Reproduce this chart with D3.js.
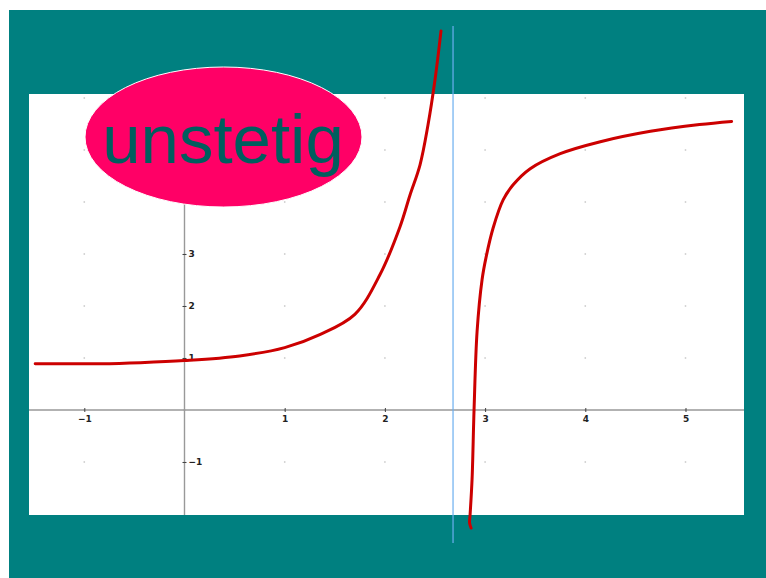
<!DOCTYPE html>
<html>
<head>
<meta charset="utf-8">
<script src="https://cdn.jsdelivr.net/npm/d3@7"></script>
<style>
  html, body { margin: 0; padding: 0; background: #ffffff; }
  svg { display: block; }
  .tick text { font-family: "DejaVu Sans", "Liberation Sans", Arial, sans-serif; font-weight: bold; font-size: 9px; fill: #222; }
</style>
</head>
<body>
<svg id="chart" width="766" height="578"></svg>
<script>
// Function graph with a pole: f jumps from +inf to -inf near x = 2.68
const xTicks = [-1, 1, 2, 3, 4, 5];
const yTicks = [-1, 1, 2, 3];
const gridX = [-1, 0, 1, 2, 3, 4, 5];
const gridY = [-1, 0, 1, 2, 3, 4, 5, 6];
const poleX = 2.68;

// left branch (before the pole)
const leftX = [-1.49, -0.84, -0.44, 0.0, 0.55, 1.0, 1.35, 1.70, 1.95, 2.15, 2.25, 2.35, 2.43, 2.50, 2.56];
const leftY = [0.89, 0.89, 0.91, 0.95, 1.04, 1.20, 1.45, 1.84, 2.60, 3.52, 4.13, 4.71, 5.48, 6.35, 7.29];
// right branch (after the pole)
const rightX = [2.86, 2.845, 2.85, 2.87, 2.89, 2.92, 2.97, 3.01, 3.08, 3.18, 3.28, 3.45, 3.75, 4.15, 4.65, 5.14, 5.46];
const rightY = [-2.27, -2.17, -2.02, -1.33, 0.02, 1.51, 2.51, 2.94, 3.50, 4.04, 4.33, 4.64, 4.93, 5.16, 5.36, 5.49, 5.55];

const label = "unstetig";

const svg = d3.select("#chart");

// frame: teal background and white drawing sheet
svg.append("rect").attr("x", 9).attr("y", 10).attr("width", 757).attr("height", 568).attr("fill", "#008080");
const sheet = { x0: 29, y0: 94, x1: 744, y1: 515 };
svg.append("rect").attr("x", sheet.x0).attr("y", sheet.y0)
  .attr("width", sheet.x1 - sheet.x0).attr("height", sheet.y1 - sheet.y0).attr("fill", "#ffffff");

const x = d3.scaleLinear().domain([0, 1]).range([184.5, 284.7]);
const y = d3.scaleLinear().domain([0, 1]).range([410, 358]);

// grid dots
const dots = [];
gridX.forEach(gx => gridY.forEach(gy => dots.push([gx, gy])));
svg.append("g").selectAll("rect").data(dots.filter(d => y(d[1]) > sheet.y0 && y(d[1]) < sheet.y1))
  .join("rect")
  .attr("x", d => x(d[0]) - 0.75).attr("y", d => y(d[1]) - 0.75)
  .attr("width", 1.5).attr("height", 1.5).attr("fill", "#c8c8c8");

// axis lines
svg.append("line").attr("x1", sheet.x0).attr("x2", sheet.x1).attr("y1", y(0)).attr("y2", y(0))
  .attr("stroke", "#666").attr("stroke-width", 1.2);
svg.append("line").attr("x1", x(0)).attr("x2", x(0)).attr("y1", 150).attr("y2", sheet.y1)
  .attr("stroke", "#999").attr("stroke-width", 1.4);

// x axis ticks and labels
const xAxis = svg.append("g").attr("transform", `translate(0,${y(0)})`)
  .call(d3.axisBottom(x).tickValues(xTicks).tickSize(3).tickSizeOuter(0).tickPadding(3)
    .tickFormat(d => d < 0 ? "\u2212" + Math.abs(d) : d));
xAxis.select(".domain").remove();
xAxis.selectAll(".tick line").attr("y1", -2).attr("y2", 2).attr("stroke", "#444");

// y axis ticks and labels
const yAxis = svg.append("g").attr("transform", `translate(${x(0)},0)`)
  .call(d3.axisRight(y).tickValues(yTicks).tickSize(2).tickSizeOuter(0).tickPadding(2)
    .tickFormat(d => d < 0 ? "\u2212" + Math.abs(d) : d));
yAxis.select(".domain").remove();
yAxis.selectAll(".tick line").attr("x1", -2).attr("x2", 2).attr("stroke", "#444");

// vertical asymptote
svg.append("line").attr("x1", x(poleX)).attr("x2", x(poleX)).attr("y1", 26).attr("y2", 543)
  .attr("stroke", "#6aaef0").attr("stroke-width", 1.2);

// the two branches of the graph
const line = d3.line().x(d => x(d[0])).y(d => y(d[1])).curve(d3.curveCatmullRom.alpha(0.5));
[[leftX, leftY], [rightX, rightY]].forEach(([xs, ys]) => {
  svg.append("path").datum(xs.map((v, i) => [v, ys[i]]))
    .attr("d", line).attr("fill", "none").attr("stroke", "#cc0000")
    .attr("stroke-width", 3).attr("stroke-linecap", "round").attr("stroke-linejoin", "round");
});

// label bubble
svg.append("ellipse").attr("cx", 223.5).attr("cy", 137).attr("rx", 138.5).attr("ry", 70)
  .attr("fill", "#ff0066").attr("stroke", "#ffffff").attr("stroke-width", 1);
svg.append("text").attr("x", 223).attr("y", 163).attr("text-anchor", "middle")
  .attr("font-family", "'Liberation Sans', Arial, sans-serif").attr("font-size", 69)
  .attr("fill", "#005e5e").text(label);
</script>
</body>
</html>
